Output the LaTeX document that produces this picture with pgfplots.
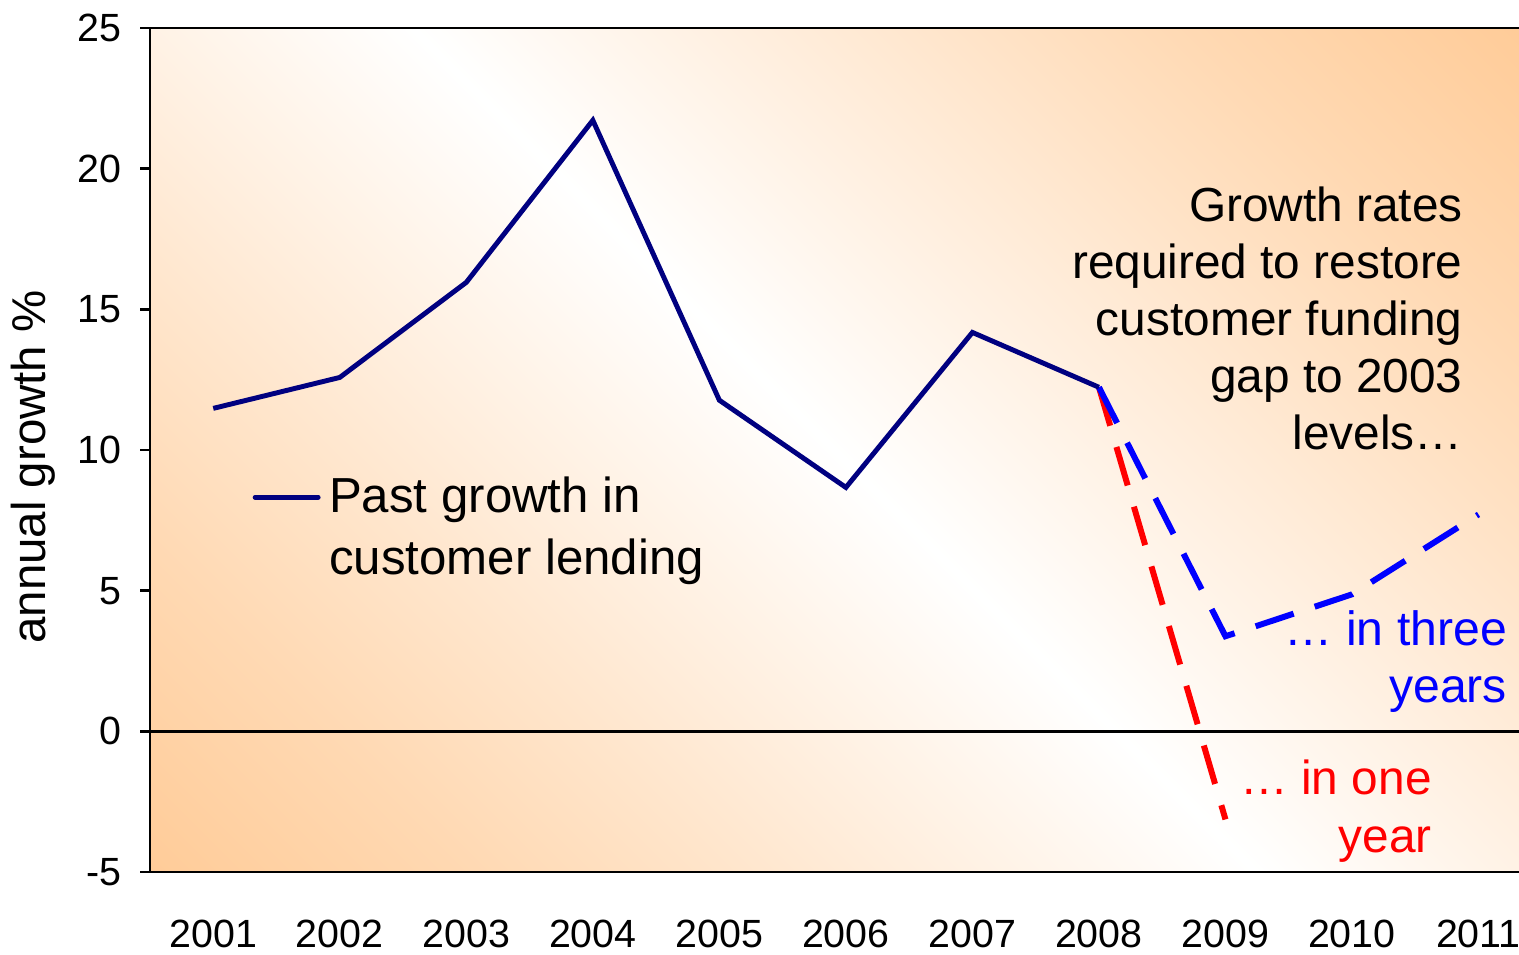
\documentclass[border=0pt]{standalone}
\usepackage{pgfplots}
\pgfplotsset{compat=1.18}
\usepackage{fontspec}
\setmainfont{Liberation Sans}

\definecolor{bgorange}{RGB}{255,204,153}
\definecolor{pastnavy}{RGB}{0,0,128}
\definecolor{threeblue}{RGB}{0,0,255}
\definecolor{onered}{RGB}{255,0,0}

% orange in bottom-left and top-right corners, white along the other diagonal
\pgfdeclarehorizontalshading{plotbg}{100bp}{%
  color(0bp)=(bgorange); color(14.6bp)=(bgorange);
  color(25.2bp)=(bgorange!74!white);
  color(50bp)=(white);
  color(74.8bp)=(bgorange!74!white);
  color(85.4bp)=(bgorange); color(100bp)=(bgorange)}

\begin{document}
\begin{tikzpicture}
\begin{axis}[
  scale only axis,
  width=136.9mm, height=84.4mm,
  xmin=2000.5, xmax=2011.32,
  ymin=-5, ymax=25,
  axis x line*=box, axis y line*=left,
  axis line style={line width=0.8pt},
  axis background/.style={shade, shading=plotbg, shading angle=45},
  xtick={2001,...,2011},
  xticklabels={2001,2002,2003,2004,2005,2006,2007,2008,2009,2010,2011},
  xtick style={draw=none},
  xticklabel style={anchor=north, inner sep=0pt, yshift=-3.7mm},
  ytick={-5,0,...,25},
  yticklabels={-5,0,5,10,15,20,25},
  ytick style={line width=0.8pt, black},
  tick align=outside,
  major tick length=1mm,
  yticklabel style={anchor=east, inner sep=0pt, xshift=-1.8mm},
  tick label style={font=\fontsize{11.2}{13}\selectfont},
  extra y ticks={0}, extra y tick labels={},
  extra y tick style={grid=major, major grid style={black, line width=0.8pt}},
  ylabel={annual growth \%},
  ylabel style={at={(rel axis cs:-0.085,0.48)}, anchor=center,
    font=\fontsize{13.5}{16}\selectfont},
  legend style={at={(rel axis cs:0.0745,0.4774)}, anchor=north west,
    draw=none, fill=none, inner sep=0pt,
    font=\fontsize{14}{17.6}\selectfont, cells={align=left}},
  legend cell align=left,
  legend image code/.code={%
    \path[draw=none] (0cm,-3.1mm) -- (0.67cm,-3.1mm);
    \draw[#1, line cap=round] (0cm,3.1mm) -- (0.63cm,3.1mm);},
]
% required paths
\addplot[onered, line width=1.7pt, dash pattern=on 11.4pt off 6.3pt, forget plot]
  coordinates {(2008,12.23) (2009,-3.13)};
\addplot[threeblue, line width=1.7pt, dash pattern=on 11.4pt off 6.3pt, forget plot]
  coordinates {(2008,12.23) (2009,3.38) (2010,4.87) (2011,7.71)};
% past growth
\addplot[pastnavy, line width=1.4pt]
  coordinates {(2001,11.48) (2002,12.58) (2003,15.96) (2004,21.72)
               (2005,11.77) (2006,8.67) (2007,14.18) (2008,12.23)};
\addlegendentry{Past growth in\\customer lending}

\node[anchor=north east, align=right, inner sep=0pt,
  font=\fontsize{13.6}{16.2}\selectfont] at (axis cs:2010.88,19.37)
  {Growth rates\\required to restore\\customer funding\\gap to 2003\\levels…};
\node[anchor=north east, align=right, inner sep=0pt, text=threeblue,
  font=\fontsize{13.7}{16.3}\selectfont] at (axis cs:2011.23,4.33)
  {… in three\\years};
\node[anchor=north east, align=right, inner sep=0pt, text=onered,
  font=\fontsize{13.6}{16.3}\selectfont] at (axis cs:2010.635,-1.0)
  {… in one\\year};
\end{axis}
\pgfresetboundingbox
\useasboundingbox (-15mm,-8.2mm) rectangle (136.9mm,87.2mm);
\end{tikzpicture}
\end{document}
